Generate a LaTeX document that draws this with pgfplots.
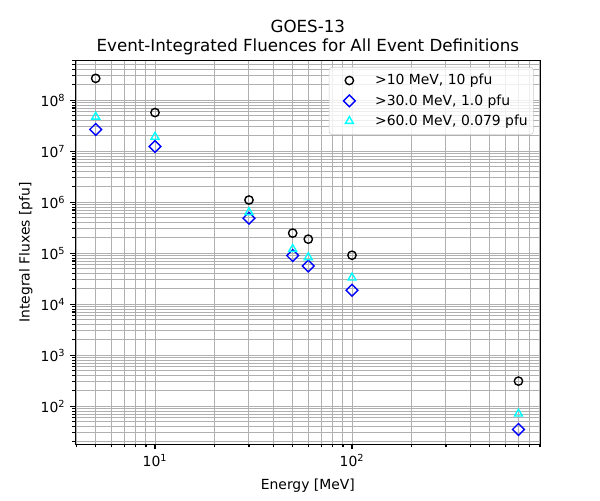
\documentclass[border=0pt]{standalone}
\usepackage{pgfplots}
\pgfplotsset{compat=1.18}
\usepackage{fontspec}
\setmainfont{DejaVu Sans}
\definecolor{gridgray}{HTML}{B0B0B0}
\definecolor{aqua}{HTML}{00FFFF}
\pgfplotsset{mylegend/.style={legend image code/.code={\path (0pt,-3pt) (20pt,3pt); \draw[##1] plot coordinates {(10pt,0pt)};}}}
\begin{document}
\begin{tikzpicture}
\begin{axis}[
  name=ax,
  xmode=log, ymode=log,
  scale only axis,
  width=334.8pt, height=276.5pt,
  xmin=3.93, xmax=907, ymin=17.7, ymax=6.1e8,
  axis line style={line width=0.8pt},
  tick style={black, line width=0.8pt},
  major tick length=3.5pt, minor tick length=2pt,
  tick align=outside,
  xtick pos=bottom, ytick pos=left,
  xtick={10,100}, xticklabels={10\textsuperscript{1},10\textsuperscript{2}},
  ytick={1e2,1e3,1e4,1e5,1e6,1e7,1e8},
  yticklabels={10\textsuperscript{2},10\textsuperscript{3},10\textsuperscript{4},10\textsuperscript{5},10\textsuperscript{6},10\textsuperscript{7},10\textsuperscript{8}},
  minor xtick={4,5,6,7,8,9,20,30,40,50,60,70,80,90,200,300,400,500,600,700,800,900},
  minor ytick={20,30,40,50,60,70,80,90,200,300,400,500,600,700,800,900,
    2000,3000,4000,5000,6000,7000,8000,9000,2e4,3e4,4e4,5e4,6e4,7e4,8e4,9e4,
    2e5,3e5,4e5,5e5,6e5,7e5,8e5,9e5,2e6,3e6,4e6,5e6,6e6,7e6,8e6,9e6,
    2e7,3e7,4e7,5e7,6e7,7e7,8e7,9e7,2e8,3e8,4e8,5e8,6e8},
  grid=both,
  major grid style={gridgray, line width=0.7pt},
  minor grid style={gridgray, line width=0.7pt},
  ticklabel style={font=\fontsize{10}{12}\selectfont},
  xlabel={Energy [MeV]}, ylabel={Integral Fluxes [pfu]},
  xlabel style={yshift=-2pt},
  ylabel style={yshift=-1pt},
  label style={font=\fontsize{10}{12}\selectfont},
  title={GOES-13\\Event-Integrated Fluences for All Event Definitions},
  title style={font=\fontsize{12}{14}\selectfont, align=center, yshift=-6pt},
  legend style={at={(0.985,0.982)}, anchor=north east, draw=black!20, rounded corners=2pt,
    fill=white, fill opacity=0.8, text opacity=1, font=\fontsize{10}{12}\selectfont,
    row sep=1.5pt, inner xsep=4pt, inner ysep=3pt, column sep=8pt,
    nodes={inner xsep=0pt}},
  legend cell align=left,
]
\addplot[only marks, mark=o, mark size=3pt, black, line width=1pt, mylegend] coordinates {
 (5,2.67e8) (10,5.7e7) (30,1.1e6) (50,2.47e5) (60,1.88e5) (100,9.1e4) (700,310)};
\addlegendentry{>10 MeV, 10 pfu}
\addplot[only marks, mark=square, mark size=3pt, mark options={rotate=45}, blue, line width=1pt, mylegend] coordinates {
 (5,2.66e7) (10,1.23e7) (30,4.85e5) (50,8.97e4) (60,5.6e4) (100,1.87e4) (700,35)};
\addlegendentry{>30.0 MeV, 1.0 pfu}
\addplot[only marks, mark=triangle, mark size=3.3pt, aqua, line width=1pt, mylegend] coordinates {
 (5,4.7e7) (10,1.9e7) (30,6.3e5) (50,1.2e5) (60,8.3e4) (100,3.3e4) (700,71)};
\addlegendentry{>60.0 MeV, 0.079 pfu}
\end{axis}
\path ([shift={(-54pt,-40.3pt)}]ax.south west) rectangle ([shift={(42.7pt,43.2pt)}]ax.north east);
\end{tikzpicture}
\end{document}
